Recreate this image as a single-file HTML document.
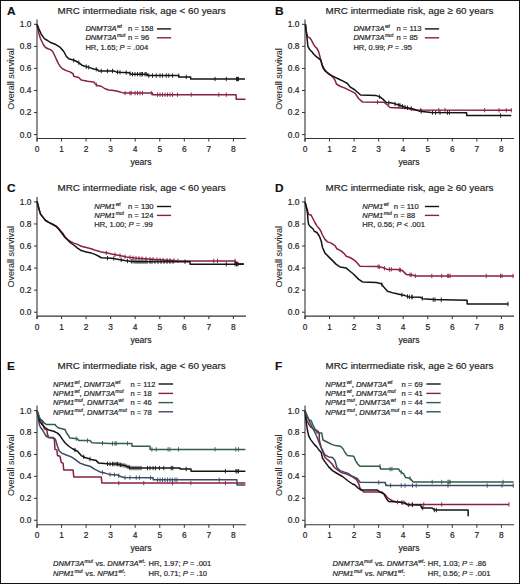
<!DOCTYPE html>
<html><head><meta charset="utf-8"><style>
html,body{margin:0;padding:0;background:#fff;}
body{width:520px;height:584px;overflow:hidden;}
svg{display:block;font-family:"Liberation Sans", sans-serif;}
text{stroke:#222;stroke-width:0.18px;white-space:pre;}
</style></head><body>
<svg width="520" height="584" viewBox="0 0 520 584" fill="#222">
<rect x="0" y="0" width="520" height="584" fill="#fff"/>
<text x="6.90" y="14.70" font-size="11.0" font-weight="bold" fill="#111" transform="translate(6.90,14.70) scale(1.08,1) translate(-6.90,-14.70)">A</text>
<text x="57.50" y="13.75" font-size="9.85">MRC intermediate risk, age &lt; 60 years</text>
<path d="M37.00 19.40V141.50" stroke="#333" stroke-width="1.1" fill="none"/>
<path d="M37.00 138.50H246.00" stroke="#333" stroke-width="1.1" fill="none"/>
<path d="M34.00 134.60H37.00M34.00 112.54H37.00M34.00 90.48H37.00M34.00 68.42H37.00M34.00 46.36H37.00M34.00 24.30H37.00M37.00 138.50V141.50M61.55 138.50V141.50M86.10 138.50V141.50M110.65 138.50V141.50M135.20 138.50V141.50M159.75 138.50V141.50M184.30 138.50V141.50M208.85 138.50V141.50M233.40 138.50V141.50" stroke="#333" stroke-width="1" fill="none"/>
<text x="31.40" y="137.50" font-size="8.4" text-anchor="end">0.0</text>
<text x="31.40" y="115.44" font-size="8.4" text-anchor="end">0.2</text>
<text x="31.40" y="93.38" font-size="8.4" text-anchor="end">0.4</text>
<text x="31.40" y="71.32" font-size="8.4" text-anchor="end">0.6</text>
<text x="31.40" y="49.26" font-size="8.4" text-anchor="end">0.8</text>
<text x="31.40" y="27.20" font-size="8.4" text-anchor="end">1.0</text>
<text x="37.00" y="152.00" font-size="8.4" text-anchor="middle">0</text>
<text x="61.55" y="152.00" font-size="8.4" text-anchor="middle">1</text>
<text x="86.10" y="152.00" font-size="8.4" text-anchor="middle">2</text>
<text x="110.65" y="152.00" font-size="8.4" text-anchor="middle">3</text>
<text x="135.20" y="152.00" font-size="8.4" text-anchor="middle">4</text>
<text x="159.75" y="152.00" font-size="8.4" text-anchor="middle">5</text>
<text x="184.30" y="152.00" font-size="8.4" text-anchor="middle">6</text>
<text x="208.85" y="152.00" font-size="8.4" text-anchor="middle">7</text>
<text x="233.40" y="152.00" font-size="8.4" text-anchor="middle">8</text>
<text x="141.00" y="165.00" font-size="8.6" text-anchor="middle">years</text>
<text x="0" y="0" font-size="9.0" text-anchor="middle" style="stroke-width:0.05px" transform="translate(13.80,79.05) rotate(-90)">Overall survival</text>
<path d="M37.00 24.30 L38.75 33.00 L40.40 38.50 L43.30 44.50 L45.50 47.50 L48.50 49.00 L50.00 49.40 L52.50 51.25 L55.00 56.25 L57.50 61.90 L60.00 66.25 L62.50 68.75 L66.25 70.60 L70.00 71.90 L73.10 73.75 L73.75 76.25 L78.75 77.50 L81.25 80.00 L87.50 81.25 L93.75 81.90 L95.00 83.75 L97.50 85.60 L101.25 86.25 L105.00 88.75 L108.75 90.00 L113.75 90.60 L117.50 91.25 L120.00 91.90 L123.75 93.10 L152.50 93.10 L152.60 94.70 L236.10 94.70 L236.20 99.30 L245.50 99.30" stroke="#8a1f43" stroke-width="1.5" fill="none" stroke-linejoin="round"/>
<path d="M37.00 24.30 L38.75 28.60 L41.25 34.25 L44.40 38.60 L47.50 40.50 L50.00 42.20 L55.00 44.20 L60.00 47.20 L62.50 50.00 L63.75 51.50 L66.25 56.25 L68.75 58.75 L73.10 60.00 L76.25 61.25 L79.40 63.10 L82.50 65.60 L87.50 66.90 L91.25 68.10 L93.75 69.00 L97.50 69.50 L98.75 71.00 L113.75 71.00 L116.25 71.90 L120.00 72.30 L129.00 72.70 L130.80 74.20 L147.50 74.20 L147.60 75.60 L178.75 75.60 L178.85 76.90 L190.60 76.90 L190.70 79.00 L245.00 79.00" stroke="#141414" stroke-width="1.5" fill="none" stroke-linejoin="round"/>
<path d="M96.25 82.47V86.88M125.00 90.90V95.30M130.00 90.90V95.30M131.25 90.90V95.30M135.00 90.90V95.30M137.50 90.90V95.30M140.00 90.90V95.30M142.50 90.90V95.30M151.25 90.90V95.30M157.50 92.50V96.90M160.00 92.50V96.90M162.50 92.50V96.90M165.00 92.50V96.90M167.50 92.50V96.90M170.00 92.50V96.90M172.50 92.50V96.90M177.50 92.50V96.90M191.25 92.50V96.90M218.75 92.50V96.90M226.25 92.50V96.90" stroke="#8a1f43" stroke-width="0.9" fill="none"/>
<path d="M73.75 58.06V62.46M78.75 60.52V64.92M86.25 64.38V68.78M88.75 65.10V69.50M96.25 67.13V71.53M101.25 68.80V73.20M107.50 68.80V73.20M112.50 68.80V73.20M117.50 69.83V74.23M120.00 70.10V74.50M126.25 70.38V74.78M130.00 71.33V75.73M132.50 72.00V76.40M135.00 72.00V76.40M137.50 72.00V76.40M140.00 72.00V76.40M141.25 72.00V76.40M142.50 72.00V76.40M145.00 72.00V76.40M146.25 72.00V76.40M148.75 73.40V77.80M152.50 73.40V77.80M156.25 73.40V77.80M160.00 73.40V77.80M162.50 73.40V77.80M166.25 73.40V77.80M168.75 73.40V77.80M172.50 73.40V77.80M178.75 73.40V77.80M186.25 74.70V79.10M215.00 76.80V81.20M226.25 76.80V81.20M236.50 76.80V81.20M237.50 76.80V81.20M238.50 76.80V81.20" stroke="#141414" stroke-width="0.9" fill="none"/>
<text x="85.40" y="31.05" font-size="7.6" font-style="italic">DNMT3A</text>
<text x="116.95" y="28.05" font-size="5.0" font-style="italic">wt</text>
<text x="85.40" y="40.20" font-size="7.6" font-style="italic">DNMT3A</text>
<text x="116.95" y="37.20" font-size="5.0" font-style="italic">mut</text>
<text x="127.90" y="31.05" font-size="7.6">n = 158</text>
<text x="127.90" y="40.20" font-size="7.6">n = 96</text>
<path d="M156.90 28.90H171.10" stroke="#141414" stroke-width="1.4"/>
<path d="M156.90 37.80H171.10" stroke="#8a1f43" stroke-width="1.4"/>
<text x="85.40" y="49.50" font-size="7.6" xml:space="preserve">HR, 1.65; </text>
<text x="119.61" y="49.50" font-size="7.6" font-style="italic">P</text>
<text x="124.68" y="49.50" font-size="7.6" xml:space="preserve"> = .004</text>
<text x="274.90" y="14.70" font-size="11.0" font-weight="bold" fill="#111" transform="translate(274.90,14.70) scale(1.08,1) translate(-274.90,-14.70)">B</text>
<text x="325.50" y="13.75" font-size="9.85">MRC intermediate risk, age ≥ 60 years</text>
<path d="M305.00 19.40V141.50" stroke="#333" stroke-width="1.1" fill="none"/>
<path d="M305.00 138.50H514.00" stroke="#333" stroke-width="1.1" fill="none"/>
<path d="M302.00 134.60H305.00M302.00 112.54H305.00M302.00 90.48H305.00M302.00 68.42H305.00M302.00 46.36H305.00M302.00 24.30H305.00M305.00 138.50V141.50M329.55 138.50V141.50M354.10 138.50V141.50M378.65 138.50V141.50M403.20 138.50V141.50M427.75 138.50V141.50M452.30 138.50V141.50M476.85 138.50V141.50M501.40 138.50V141.50" stroke="#333" stroke-width="1" fill="none"/>
<text x="299.40" y="137.50" font-size="8.4" text-anchor="end">0.0</text>
<text x="299.40" y="115.44" font-size="8.4" text-anchor="end">0.2</text>
<text x="299.40" y="93.38" font-size="8.4" text-anchor="end">0.4</text>
<text x="299.40" y="71.32" font-size="8.4" text-anchor="end">0.6</text>
<text x="299.40" y="49.26" font-size="8.4" text-anchor="end">0.8</text>
<text x="299.40" y="27.20" font-size="8.4" text-anchor="end">1.0</text>
<text x="305.00" y="152.00" font-size="8.4" text-anchor="middle">0</text>
<text x="329.55" y="152.00" font-size="8.4" text-anchor="middle">1</text>
<text x="354.10" y="152.00" font-size="8.4" text-anchor="middle">2</text>
<text x="378.65" y="152.00" font-size="8.4" text-anchor="middle">3</text>
<text x="403.20" y="152.00" font-size="8.4" text-anchor="middle">4</text>
<text x="427.75" y="152.00" font-size="8.4" text-anchor="middle">5</text>
<text x="452.30" y="152.00" font-size="8.4" text-anchor="middle">6</text>
<text x="476.85" y="152.00" font-size="8.4" text-anchor="middle">7</text>
<text x="501.40" y="152.00" font-size="8.4" text-anchor="middle">8</text>
<text x="409.00" y="165.00" font-size="8.6" text-anchor="middle">years</text>
<text x="0" y="0" font-size="9.0" text-anchor="middle" style="stroke-width:0.05px" transform="translate(281.80,79.05) rotate(-90)">Overall survival</text>
<path d="M305.45 24.45 L306.30 32.20 L307.45 36.70 L309.70 37.80 L311.40 40.00 L313.00 43.40 L314.70 46.20 L316.90 48.40 L318.60 51.70 L319.70 55.60 L320.80 60.10 L322.50 65.70 L324.20 69.00 L327.00 72.30 L330.80 75.10 L333.60 77.90 L335.30 80.70 L336.40 84.00 L340.00 86.25 L345.00 88.10 L350.00 90.60 L355.00 93.10 L358.75 98.75 L362.50 101.90 L383.75 102.25 L387.50 105.00 L390.00 107.50 L400.00 108.10 L407.50 108.50 L413.75 110.00 L511.90 110.25" stroke="#8a1f43" stroke-width="1.5" fill="none" stroke-linejoin="round"/>
<path d="M305.45 24.45 L306.30 31.10 L306.90 36.70 L307.45 42.30 L308.00 46.70 L309.70 49.50 L311.90 51.70 L313.60 54.00 L315.80 56.20 L318.60 58.40 L320.80 60.10 L321.90 64.50 L323.00 67.90 L325.30 71.20 L329.70 74.60 L334.20 76.80 L338.60 79.00 L343.10 81.20 L347.50 83.50 L350.00 86.90 L355.00 90.00 L360.60 95.00 L376.25 95.60 L380.00 96.90 L383.10 99.40 L386.25 102.50 L392.50 103.10 L398.75 105.00 L402.50 106.25 L406.25 107.50 L412.50 108.75 L420.00 111.25 L431.25 112.50 L466.60 112.75 L466.70 115.60 L511.25 115.60" stroke="#141414" stroke-width="1.5" fill="none" stroke-linejoin="round"/>
<path d="M377.50 99.95V104.35M420.60 107.82V112.22M438.75 107.86V112.26M445.00 107.88V112.28M484.60 107.98V112.38M499.00 108.02V112.42M506.25 108.04V112.44M511.25 108.05V112.45" stroke="#8a1f43" stroke-width="0.9" fill="none"/>
<path d="M379.40 94.49V98.89M388.75 100.54V104.94M395.00 101.66V106.06M398.75 102.80V107.20M400.00 103.22V107.62M402.50 104.05V108.45M405.00 104.88V109.28M407.50 105.55V109.95M411.25 106.30V110.70M421.25 109.19V113.59M432.50 110.31V114.71M435.60 110.33V114.73M440.00 110.36V114.76M447.50 110.41V114.81M449.40 110.43V114.83M500.60 113.40V117.80" stroke="#141414" stroke-width="0.9" fill="none"/>
<text x="353.40" y="31.05" font-size="7.6" font-style="italic">DNMT3A</text>
<text x="384.95" y="28.05" font-size="5.0" font-style="italic">wt</text>
<text x="353.40" y="40.20" font-size="7.6" font-style="italic">DNMT3A</text>
<text x="384.95" y="37.20" font-size="5.0" font-style="italic">mut</text>
<text x="396.50" y="31.05" font-size="7.6">n = 113</text>
<text x="396.50" y="40.20" font-size="7.6">n = 85</text>
<path d="M424.90 28.90H439.10" stroke="#141414" stroke-width="1.4"/>
<path d="M424.90 37.80H439.10" stroke="#8a1f43" stroke-width="1.4"/>
<text x="353.40" y="49.50" font-size="7.6" xml:space="preserve">HR, 0.99; </text>
<text x="387.61" y="49.50" font-size="7.6" font-style="italic">P</text>
<text x="392.68" y="49.50" font-size="7.6" xml:space="preserve"> = .95</text>
<text x="6.90" y="192.30" font-size="11.0" font-weight="bold" fill="#111" transform="translate(6.90,192.30) scale(1.08,1) translate(-6.90,-192.30)">C</text>
<text x="57.50" y="191.35" font-size="9.85">MRC intermediate risk, age &lt; 60 years</text>
<path d="M37.00 197.00V319.10" stroke="#333" stroke-width="1.1" fill="none"/>
<path d="M37.00 316.10H246.00" stroke="#333" stroke-width="1.1" fill="none"/>
<path d="M34.00 312.20H37.00M34.00 290.14H37.00M34.00 268.08H37.00M34.00 246.02H37.00M34.00 223.96H37.00M34.00 201.90H37.00M37.00 316.10V319.10M61.55 316.10V319.10M86.10 316.10V319.10M110.65 316.10V319.10M135.20 316.10V319.10M159.75 316.10V319.10M184.30 316.10V319.10M208.85 316.10V319.10M233.40 316.10V319.10" stroke="#333" stroke-width="1" fill="none"/>
<text x="31.40" y="315.10" font-size="8.4" text-anchor="end">0.0</text>
<text x="31.40" y="293.04" font-size="8.4" text-anchor="end">0.2</text>
<text x="31.40" y="270.98" font-size="8.4" text-anchor="end">0.4</text>
<text x="31.40" y="248.92" font-size="8.4" text-anchor="end">0.6</text>
<text x="31.40" y="226.86" font-size="8.4" text-anchor="end">0.8</text>
<text x="31.40" y="204.80" font-size="8.4" text-anchor="end">1.0</text>
<text x="37.00" y="329.60" font-size="8.4" text-anchor="middle">0</text>
<text x="61.55" y="329.60" font-size="8.4" text-anchor="middle">1</text>
<text x="86.10" y="329.60" font-size="8.4" text-anchor="middle">2</text>
<text x="110.65" y="329.60" font-size="8.4" text-anchor="middle">3</text>
<text x="135.20" y="329.60" font-size="8.4" text-anchor="middle">4</text>
<text x="159.75" y="329.60" font-size="8.4" text-anchor="middle">5</text>
<text x="184.30" y="329.60" font-size="8.4" text-anchor="middle">6</text>
<text x="208.85" y="329.60" font-size="8.4" text-anchor="middle">7</text>
<text x="233.40" y="329.60" font-size="8.4" text-anchor="middle">8</text>
<text x="141.00" y="342.60" font-size="8.6" text-anchor="middle">years</text>
<text x="0" y="0" font-size="9.0" text-anchor="middle" style="stroke-width:0.05px" transform="translate(13.80,256.65) rotate(-90)">Overall survival</text>
<path d="M37.00 201.10 L38.10 205.50 L39.40 210.50 L40.60 214.25 L43.10 217.40 L45.60 220.50 L48.75 222.40 L52.50 224.25 L56.25 226.10 L59.40 229.25 L62.50 233.00 L65.00 236.75 L68.75 240.50 L70.00 241.25 L73.75 243.10 L77.50 244.40 L81.25 246.25 L86.25 247.50 L91.25 248.75 L96.25 250.60 L101.25 251.90 L107.50 253.10 L113.75 254.40 L120.00 255.60 L126.25 256.90 L135.00 258.10 L155.00 259.50 L180.00 260.90 L235.50 260.90 L235.60 263.70 L243.75 263.70" stroke="#8a1f43" stroke-width="1.5" fill="none" stroke-linejoin="round"/>
<path d="M37.00 201.10 L38.10 205.50 L39.40 210.50 L40.60 214.25 L43.10 217.40 L45.60 220.50 L48.75 222.40 L52.50 224.25 L56.25 226.50 L59.40 230.00 L62.50 234.00 L65.00 237.50 L68.75 241.00 L70.00 242.50 L73.75 245.00 L77.50 248.10 L81.25 250.60 L86.25 251.90 L91.25 253.10 L95.00 254.40 L98.75 256.25 L101.25 257.75 L107.50 258.10 L113.75 258.50 L118.75 259.40 L125.00 260.60 L130.00 261.25 L137.50 261.70 L190.00 261.70 L190.10 264.20 L243.75 264.20" stroke="#141414" stroke-width="1.5" fill="none" stroke-linejoin="round"/>
<path d="M106.25 250.66V255.06M115.00 252.44V256.84M120.00 253.40V257.80M125.00 254.44V258.84M130.00 255.21V259.61M133.00 255.63V260.03M136.00 255.97V260.37M139.00 256.18V260.58M142.00 256.39V260.79M146.00 256.67V261.07M150.00 256.95V261.35M153.00 257.16V261.56M157.00 257.41V261.81M160.00 257.58V261.98M163.00 257.75V262.15M167.00 257.97V262.37M170.00 258.14V262.54M174.00 258.36V262.76M178.00 258.59V262.99M213.75 258.70V263.10M217.50 258.70V263.10M235.00 258.70V263.10M236.50 261.50V265.90M237.50 261.50V265.90" stroke="#8a1f43" stroke-width="0.9" fill="none"/>
<path d="M107.50 255.90V260.30M113.75 256.30V260.70M121.25 257.68V262.08M127.50 258.73V263.12M131.25 259.12V263.52M133.00 259.23V263.63M135.00 259.35V263.75M137.00 259.47V263.87M139.00 259.50V263.90M141.00 259.50V263.90M143.00 259.50V263.90M145.00 259.50V263.90M147.00 259.50V263.90M150.00 259.50V263.90M152.00 259.50V263.90M155.00 259.50V263.90M158.00 259.50V263.90M161.00 259.50V263.90M164.00 259.50V263.90M167.00 259.50V263.90M170.00 259.50V263.90M173.00 259.50V263.90M185.00 259.50V263.90M226.25 262.00V266.40M235.00 262.00V266.40M236.50 262.00V266.40M238.00 262.00V266.40" stroke="#141414" stroke-width="0.9" fill="none"/>
<text x="94.25" y="208.65" font-size="7.6" font-style="italic">NPM1</text>
<text x="115.67" y="205.65" font-size="5.0" font-style="italic">wt</text>
<text x="94.25" y="217.80" font-size="7.6" font-style="italic">NPM1</text>
<text x="115.67" y="214.80" font-size="5.0" font-style="italic">mut</text>
<text x="128.00" y="208.65" font-size="7.6">n = 130</text>
<text x="128.00" y="217.80" font-size="7.6">n = 124</text>
<path d="M156.90 206.50H171.10" stroke="#141414" stroke-width="1.4"/>
<path d="M156.90 215.40H171.10" stroke="#8a1f43" stroke-width="1.4"/>
<text x="94.25" y="227.10" font-size="7.6" xml:space="preserve">HR, 1.00; </text>
<text x="128.46" y="227.10" font-size="7.6" font-style="italic">P</text>
<text x="133.53" y="227.10" font-size="7.6" xml:space="preserve"> = .99</text>
<text x="274.90" y="192.30" font-size="11.0" font-weight="bold" fill="#111" transform="translate(274.90,192.30) scale(1.08,1) translate(-274.90,-192.30)">D</text>
<text x="325.50" y="191.35" font-size="9.85">MRC intermediate risk, age ≥ 60 years</text>
<path d="M305.00 197.00V319.10" stroke="#333" stroke-width="1.1" fill="none"/>
<path d="M305.00 316.10H514.00" stroke="#333" stroke-width="1.1" fill="none"/>
<path d="M302.00 312.20H305.00M302.00 290.14H305.00M302.00 268.08H305.00M302.00 246.02H305.00M302.00 223.96H305.00M302.00 201.90H305.00M305.00 316.10V319.10M329.55 316.10V319.10M354.10 316.10V319.10M378.65 316.10V319.10M403.20 316.10V319.10M427.75 316.10V319.10M452.30 316.10V319.10M476.85 316.10V319.10M501.40 316.10V319.10" stroke="#333" stroke-width="1" fill="none"/>
<text x="299.40" y="315.10" font-size="8.4" text-anchor="end">0.0</text>
<text x="299.40" y="293.04" font-size="8.4" text-anchor="end">0.2</text>
<text x="299.40" y="270.98" font-size="8.4" text-anchor="end">0.4</text>
<text x="299.40" y="248.92" font-size="8.4" text-anchor="end">0.6</text>
<text x="299.40" y="226.86" font-size="8.4" text-anchor="end">0.8</text>
<text x="299.40" y="204.80" font-size="8.4" text-anchor="end">1.0</text>
<text x="305.00" y="329.60" font-size="8.4" text-anchor="middle">0</text>
<text x="329.55" y="329.60" font-size="8.4" text-anchor="middle">1</text>
<text x="354.10" y="329.60" font-size="8.4" text-anchor="middle">2</text>
<text x="378.65" y="329.60" font-size="8.4" text-anchor="middle">3</text>
<text x="403.20" y="329.60" font-size="8.4" text-anchor="middle">4</text>
<text x="427.75" y="329.60" font-size="8.4" text-anchor="middle">5</text>
<text x="452.30" y="329.60" font-size="8.4" text-anchor="middle">6</text>
<text x="476.85" y="329.60" font-size="8.4" text-anchor="middle">7</text>
<text x="501.40" y="329.60" font-size="8.4" text-anchor="middle">8</text>
<text x="409.00" y="342.60" font-size="8.6" text-anchor="middle">years</text>
<text x="0" y="0" font-size="9.0" text-anchor="middle" style="stroke-width:0.05px" transform="translate(281.80,256.65) rotate(-90)">Overall survival</text>
<path d="M305.00 201.90 L306.10 205.60 L307.40 210.00 L308.60 214.40 L311.10 215.00 L313.00 218.75 L314.90 222.50 L316.75 225.60 L319.25 228.75 L320.60 230.60 L322.50 235.00 L325.00 239.40 L327.50 241.90 L331.25 243.10 L335.00 245.60 L336.90 248.75 L340.60 250.60 L343.75 253.10 L346.25 256.25 L350.00 257.50 L355.00 260.60 L360.00 266.25 L377.50 266.50 L382.50 267.50 L387.50 269.40 L397.50 269.40 L402.50 270.60 L406.25 274.40 L412.50 275.00 L415.00 275.90 L513.60 275.90" stroke="#8a1f43" stroke-width="1.5" fill="none" stroke-linejoin="round"/>
<path d="M305.00 201.90 L306.10 206.25 L307.40 212.50 L308.00 220.00 L308.60 224.40 L310.50 226.90 L313.00 228.75 L314.25 231.25 L316.90 232.50 L319.40 236.25 L321.25 241.25 L322.50 247.50 L325.00 253.10 L328.75 256.90 L332.50 260.60 L336.25 264.40 L340.00 266.90 L346.25 268.10 L350.00 271.25 L353.10 273.75 L355.00 275.60 L358.75 279.40 L362.50 281.90 L376.25 282.50 L381.25 283.75 L383.75 286.90 L387.50 291.25 L393.75 293.10 L400.00 294.40 L405.00 295.60 L408.75 296.90 L420.60 297.30 L422.70 298.70 L433.30 299.60 L467.10 300.20 L467.20 304.00 L508.40 304.00" stroke="#141414" stroke-width="1.5" fill="none" stroke-linejoin="round"/>
<path d="M378.10 264.42V268.82M379.40 264.68V269.08M384.40 266.02V270.42M389.40 267.20V271.60M391.25 267.20V271.60M399.40 267.66V272.06M400.60 267.94V272.34M410.00 272.56V276.96M411.25 272.68V277.08M415.30 273.70V278.10M431.80 273.70V278.10M441.70 273.70V278.10M447.70 273.70V278.10M448.70 273.70V278.10M450.20 273.70V278.10M486.20 273.70V278.10M500.50 273.70V278.10M502.00 273.70V278.10M513.00 273.70V278.10" stroke="#8a1f43" stroke-width="0.9" fill="none"/>
<path d="M381.90 282.37V286.77M401.90 292.66V297.06M407.50 294.27V298.67M409.40 294.72V299.12M411.90 294.81V299.21M412.10 294.81V299.21M422.30 296.23V300.63M433.30 297.40V301.80M435.00 297.43V301.83M441.30 297.54V301.94M507.90 301.80V306.20" stroke="#141414" stroke-width="0.9" fill="none"/>
<text x="362.25" y="208.65" font-size="7.6" font-style="italic">NPM1</text>
<text x="383.67" y="205.65" font-size="5.0" font-style="italic">wt</text>
<text x="362.25" y="217.80" font-size="7.6" font-style="italic">NPM1</text>
<text x="383.67" y="214.80" font-size="5.0" font-style="italic">mut</text>
<text x="393.80" y="208.65" font-size="7.6">n = 110</text>
<text x="393.80" y="217.80" font-size="7.6">n = 88</text>
<path d="M424.90 206.50H439.10" stroke="#141414" stroke-width="1.4"/>
<path d="M424.90 215.40H439.10" stroke="#8a1f43" stroke-width="1.4"/>
<text x="362.25" y="227.10" font-size="7.6" xml:space="preserve">HR, 0.56; </text>
<text x="396.46" y="227.10" font-size="7.6" font-style="italic">P</text>
<text x="401.53" y="227.10" font-size="7.6" xml:space="preserve"> &lt; .001</text>
<text x="6.90" y="370.20" font-size="11.0" font-weight="bold" fill="#111" transform="translate(6.90,370.20) scale(1.08,1) translate(-6.90,-370.20)">E</text>
<text x="57.50" y="369.00" font-size="9.85">MRC intermediate risk, age &lt; 60 years</text>
<path d="M37.00 405.60V527.80" stroke="#333" stroke-width="1.1" fill="none"/>
<path d="M37.00 524.80H246.00" stroke="#333" stroke-width="1.1" fill="none"/>
<path d="M34.00 520.25H37.00M34.00 498.32H37.00M34.00 476.39H37.00M34.00 454.46H37.00M34.00 432.53H37.00M34.00 410.60H37.00M37.00 524.80V527.80M61.55 524.80V527.80M86.10 524.80V527.80M110.65 524.80V527.80M135.20 524.80V527.80M159.75 524.80V527.80M184.30 524.80V527.80M208.85 524.80V527.80M233.40 524.80V527.80" stroke="#333" stroke-width="1" fill="none"/>
<text x="31.40" y="523.15" font-size="8.4" text-anchor="end">0.0</text>
<text x="31.40" y="501.22" font-size="8.4" text-anchor="end">0.2</text>
<text x="31.40" y="479.29" font-size="8.4" text-anchor="end">0.4</text>
<text x="31.40" y="457.36" font-size="8.4" text-anchor="end">0.6</text>
<text x="31.40" y="435.43" font-size="8.4" text-anchor="end">0.8</text>
<text x="31.40" y="413.50" font-size="8.4" text-anchor="end">1.0</text>
<text x="37.00" y="537.50" font-size="8.4" text-anchor="middle">0</text>
<text x="61.55" y="537.50" font-size="8.4" text-anchor="middle">1</text>
<text x="86.10" y="537.50" font-size="8.4" text-anchor="middle">2</text>
<text x="110.65" y="537.50" font-size="8.4" text-anchor="middle">3</text>
<text x="135.20" y="537.50" font-size="8.4" text-anchor="middle">4</text>
<text x="159.75" y="537.50" font-size="8.4" text-anchor="middle">5</text>
<text x="184.30" y="537.50" font-size="8.4" text-anchor="middle">6</text>
<text x="208.85" y="537.50" font-size="8.4" text-anchor="middle">7</text>
<text x="233.40" y="537.50" font-size="8.4" text-anchor="middle">8</text>
<text x="141.00" y="551.25" font-size="8.6" text-anchor="middle">years</text>
<text x="0" y="0" font-size="9.0" text-anchor="middle" style="stroke-width:0.05px" transform="translate(13.80,465.20) rotate(-90)">Overall survival</text>
<path d="M37.00 410.60 L38.75 415.00 L40.00 420.00 L41.90 421.25 L43.10 425.00 L44.40 428.75 L46.90 430.00 L47.50 434.40 L48.75 437.50 L53.10 437.50 L53.75 438.10 L54.40 440.00 L55.00 449.40 L56.90 450.00 L57.50 455.60 L60.00 456.25 L61.25 462.50 L63.10 463.10 L63.75 470.00 L73.10 470.00 L73.75 476.90 L101.25 476.90 L101.90 483.10 L245.40 483.10" stroke="#8a1f43" stroke-width="1.5" fill="none" stroke-linejoin="round"/>
<path d="M37.00 410.60 L38.10 417.50 L39.40 425.00 L40.60 427.50 L42.50 430.00 L44.40 433.10 L46.25 436.25 L48.75 437.50 L52.50 438.10 L55.00 438.75 L55.60 440.00 L57.50 446.25 L59.40 451.25 L61.90 453.10 L66.25 455.00 L71.25 456.90 L75.00 459.40 L80.00 463.10 L85.00 465.00 L90.00 466.25 L95.00 469.40 L100.00 471.90 L105.00 473.10 L110.00 474.60 L117.50 475.00 L120.00 476.25 L123.75 477.50 L153.10 477.75 L153.20 479.80 L236.90 479.80 L237.00 485.00 L245.40 485.00" stroke="#3b4965" stroke-width="1.5" fill="none" stroke-linejoin="round"/>
<path d="M37.00 410.60 L38.75 417.50 L40.00 421.90 L42.50 425.00 L45.00 427.50 L48.75 430.00 L53.75 431.25 L57.50 433.10 L60.00 435.60 L62.50 439.40 L65.00 442.80 L68.75 446.25 L72.50 448.75 L77.50 451.25 L81.25 455.60 L85.00 457.50 L91.25 459.40 L96.25 460.60 L98.75 463.10 L110.00 464.00 L117.50 464.00 L120.00 464.75 L125.00 465.60 L128.75 467.25 L131.25 468.10 L180.00 468.10 L180.10 469.00 L191.00 469.00 L191.10 471.20 L245.40 471.20" stroke="#141414" stroke-width="1.5" fill="none" stroke-linejoin="round"/>
<path d="M37.00 410.60 L38.75 416.25 L40.60 419.40 L42.50 420.60 L44.40 423.10 L46.25 424.40 L55.00 424.40 L56.25 426.25 L58.75 428.10 L65.00 429.40 L66.25 432.50 L68.10 435.00 L70.00 438.10 L77.50 438.75 L78.75 440.60 L90.00 440.60 L91.90 442.75 L110.00 443.50 L131.90 443.50 L132.00 446.25 L150.00 446.25 L150.10 449.40 L245.40 449.40" stroke="#325c4c" stroke-width="1.5" fill="none" stroke-linejoin="round"/>
<path d="M118.75 480.90V485.30M143.75 480.90V485.30M172.50 480.90V485.30M190.80 480.90V485.30M225.40 480.90V485.30" stroke="#8a1f43" stroke-width="0.9" fill="none"/>
<path d="M102.50 470.30V474.70M110.00 472.40V476.80M114.40 472.63V477.03M118.75 473.43V477.82M125.00 475.31V479.71M130.00 475.35V479.75M136.25 475.41V479.81M139.40 475.43V479.83M150.60 475.53V479.93M157.50 477.60V482.00M160.00 477.60V482.00M162.50 477.60V482.00M165.00 477.60V482.00M167.50 477.60V482.00M170.00 477.60V482.00M172.30 477.60V482.00M175.00 477.60V482.00M176.90 477.60V482.00M219.20 477.60V482.00" stroke="#3b4965" stroke-width="0.9" fill="none"/>
<path d="M75.00 447.80V452.20M83.75 454.67V459.07M90.00 456.82V461.22M107.50 461.60V466.00M110.00 461.80V466.20M112.50 461.80V466.20M114.00 461.80V466.20M116.00 461.80V466.20M117.50 461.80V466.20M119.00 462.25V466.65M120.50 462.63V467.03M122.00 462.89V467.29M124.00 463.23V467.63M126.00 463.84V468.24M128.00 464.72V469.12M129.50 465.31V469.70M131.00 465.82V470.22M133.00 465.90V470.30M135.00 465.90V470.30M137.00 465.90V470.30M139.00 465.90V470.30M141.00 465.90V470.30M147.50 465.90V470.30M150.00 465.90V470.30M153.10 465.90V470.30M155.60 465.90V470.30M159.40 465.90V470.30M163.75 465.90V470.30M171.25 465.90V470.30M172.80 465.90V470.30M186.20 466.80V471.20M225.40 469.00V473.40M236.00 469.00V473.40M237.00 469.00V473.40M238.50 469.00V473.40" stroke="#141414" stroke-width="0.9" fill="none"/>
<path d="M76.25 436.44V440.84M87.50 438.40V442.80M102.50 440.99V445.39M112.50 441.30V445.70M115.00 441.30V445.70M116.25 441.30V445.70M127.50 441.30V445.70M151.90 447.20V451.60M156.25 447.20V451.60M168.10 447.20V451.60M170.00 447.20V451.60M178.50 447.20V451.60M215.00 447.20V451.60M235.80 447.20V451.60M238.50 447.20V451.60" stroke="#325c4c" stroke-width="0.9" fill="none"/>
<text x="53.10" y="386.60" font-size="7.6" font-style="italic">NPM1</text>
<text x="74.52" y="383.60" font-size="5.0" font-style="italic">wt</text>
<text x="79.52" y="386.60" font-size="7.6">,</text>
<text x="83.74" y="386.60" font-size="7.6" font-style="italic">DNMT3A</text>
<text x="115.28" y="383.60" font-size="5.0" font-style="italic">wt</text>
<text x="130.40" y="386.60" font-size="7.6">n = 112</text>
<path d="M158.50 384.00H173.10" stroke="#141414" stroke-width="1.4"/>
<text x="53.10" y="395.90" font-size="7.6" font-style="italic">NPM1</text>
<text x="74.52" y="392.90" font-size="5.0" font-style="italic">wt</text>
<text x="79.52" y="395.90" font-size="7.6">,</text>
<text x="83.74" y="395.90" font-size="7.6" font-style="italic">DNMT3A</text>
<text x="115.28" y="392.90" font-size="5.0" font-style="italic">mut</text>
<text x="130.40" y="395.90" font-size="7.6">n = 18</text>
<path d="M158.50 393.40H173.10" stroke="#8a1f43" stroke-width="1.4"/>
<text x="53.10" y="405.30" font-size="7.6" font-style="italic">NPM1</text>
<text x="74.52" y="402.30" font-size="5.0" font-style="italic">mut</text>
<text x="82.85" y="405.30" font-size="7.6">,</text>
<text x="87.07" y="405.30" font-size="7.6" font-style="italic">DNMT3A</text>
<text x="118.62" y="402.30" font-size="5.0" font-style="italic">wt</text>
<text x="130.40" y="405.30" font-size="7.6">n = 46</text>
<path d="M158.50 402.60H173.10" stroke="#325c4c" stroke-width="1.4"/>
<text x="53.10" y="414.80" font-size="7.6" font-style="italic">NPM1</text>
<text x="74.52" y="411.80" font-size="5.0" font-style="italic">mut</text>
<text x="82.85" y="414.80" font-size="7.6">,</text>
<text x="87.07" y="414.80" font-size="7.6" font-style="italic">DNMT3A</text>
<text x="118.62" y="411.80" font-size="5.0" font-style="italic">mut</text>
<text x="130.40" y="414.80" font-size="7.6">n = 78</text>
<path d="M158.50 411.80H173.10" stroke="#3b4965" stroke-width="1.4"/>
<text x="53.00" y="566.10" font-size="7.6" font-style="italic">DNMT3A</text>
<text x="84.55" y="563.10" font-size="5.0" font-style="italic">mut</text>
<text x="93.38" y="566.10" font-size="7.6" xml:space="preserve"> vs. </text>
<text x="107.32" y="566.10" font-size="7.6" font-style="italic">DNMT3A</text>
<text x="138.86" y="563.10" font-size="5.0" font-style="italic">wt</text>
<text x="143.86" y="566.10" font-size="7.6">:</text>
<text x="148.60" y="566.10" font-size="7.6" xml:space="preserve">HR, 1.97; </text>
<text x="182.81" y="566.10" font-size="7.6" font-style="italic">P</text>
<text x="187.88" y="566.10" font-size="7.6" xml:space="preserve"> = .001</text>
<text x="53.00" y="575.80" font-size="7.6" font-style="italic">NPM1</text>
<text x="74.42" y="572.80" font-size="5.0" font-style="italic">mut</text>
<text x="83.25" y="575.80" font-size="7.6" xml:space="preserve"> vs. </text>
<text x="97.18" y="575.80" font-size="7.6" font-style="italic">NPM1</text>
<text x="118.60" y="572.80" font-size="5.0" font-style="italic">wt</text>
<text x="123.60" y="575.80" font-size="7.6">:</text>
<text x="148.60" y="575.80" font-size="7.6" xml:space="preserve">HR, 0.71; </text>
<text x="182.81" y="575.80" font-size="7.6" font-style="italic">P</text>
<text x="187.88" y="575.80" font-size="7.6" xml:space="preserve"> = .10</text>
<text x="274.90" y="370.20" font-size="11.0" font-weight="bold" fill="#111" transform="translate(274.90,370.20) scale(1.08,1) translate(-274.90,-370.20)">F</text>
<text x="325.50" y="369.00" font-size="9.85">MRC intermediate risk, age ≥ 60 years</text>
<path d="M305.00 405.60V527.80" stroke="#333" stroke-width="1.1" fill="none"/>
<path d="M305.00 524.80H514.00" stroke="#333" stroke-width="1.1" fill="none"/>
<path d="M302.00 520.25H305.00M302.00 498.32H305.00M302.00 476.39H305.00M302.00 454.46H305.00M302.00 432.53H305.00M302.00 410.60H305.00M305.00 524.80V527.80M329.55 524.80V527.80M354.10 524.80V527.80M378.65 524.80V527.80M403.20 524.80V527.80M427.75 524.80V527.80M452.30 524.80V527.80M476.85 524.80V527.80M501.40 524.80V527.80" stroke="#333" stroke-width="1" fill="none"/>
<text x="299.40" y="523.15" font-size="8.4" text-anchor="end">0.0</text>
<text x="299.40" y="501.22" font-size="8.4" text-anchor="end">0.2</text>
<text x="299.40" y="479.29" font-size="8.4" text-anchor="end">0.4</text>
<text x="299.40" y="457.36" font-size="8.4" text-anchor="end">0.6</text>
<text x="299.40" y="435.43" font-size="8.4" text-anchor="end">0.8</text>
<text x="299.40" y="413.50" font-size="8.4" text-anchor="end">1.0</text>
<text x="305.00" y="537.50" font-size="8.4" text-anchor="middle">0</text>
<text x="329.55" y="537.50" font-size="8.4" text-anchor="middle">1</text>
<text x="354.10" y="537.50" font-size="8.4" text-anchor="middle">2</text>
<text x="378.65" y="537.50" font-size="8.4" text-anchor="middle">3</text>
<text x="403.20" y="537.50" font-size="8.4" text-anchor="middle">4</text>
<text x="427.75" y="537.50" font-size="8.4" text-anchor="middle">5</text>
<text x="452.30" y="537.50" font-size="8.4" text-anchor="middle">6</text>
<text x="476.85" y="537.50" font-size="8.4" text-anchor="middle">7</text>
<text x="501.40" y="537.50" font-size="8.4" text-anchor="middle">8</text>
<text x="409.00" y="551.25" font-size="8.6" text-anchor="middle">years</text>
<text x="0" y="0" font-size="9.0" text-anchor="middle" style="stroke-width:0.05px" transform="translate(281.80,465.20) rotate(-90)">Overall survival</text>
<path d="M305.00 410.60 L306.75 420.00 L308.60 423.75 L310.50 426.90 L313.00 428.75 L315.50 430.00 L318.00 431.25 L319.25 433.10 L319.35 440.00 L321.10 447.50 L323.10 452.50 L325.00 457.50 L328.75 460.60 L331.90 463.75 L334.40 467.50 L337.50 470.00 L341.25 472.50 L347.50 474.40 L352.50 476.90 L356.25 479.40 L358.75 483.75 L360.00 488.25 L363.75 492.00 L381.90 492.00 L385.00 494.50 L387.50 497.60 L390.00 499.50 L392.50 500.75 L396.25 502.00 L405.00 502.60 L407.50 504.40 L509.00 504.40" stroke="#8a1f43" stroke-width="1.5" fill="none" stroke-linejoin="round"/>
<path d="M305.00 410.60 L307.40 416.25 L309.90 422.50 L312.40 427.50 L314.25 431.25 L316.75 436.25 L318.60 441.25 L320.50 446.25 L321.90 448.75 L325.00 455.00 L328.75 456.90 L332.50 457.50 L335.00 460.60 L336.90 467.50 L340.00 470.60 L343.75 471.90 L347.50 473.10 L351.25 475.60 L355.00 477.50 L357.50 478.75 L360.00 482.20 L385.00 482.60 L386.25 485.50 L513.60 485.50" stroke="#3b4965" stroke-width="1.5" fill="none" stroke-linejoin="round"/>
<path d="M305.00 410.60 L306.10 421.25 L307.40 430.00 L308.60 435.60 L310.50 439.40 L312.40 441.90 L314.25 444.40 L316.75 446.90 L318.60 449.40 L321.25 452.50 L322.50 458.10 L325.00 461.90 L328.75 466.90 L332.50 470.60 L337.50 473.75 L342.50 476.50 L347.50 480.50 L352.50 484.00 L355.00 485.00 L357.50 487.60 L361.25 490.10 L377.50 490.10 L380.00 492.00 L383.75 493.90 L386.90 499.50 L388.75 501.40 L398.75 502.00 L405.00 503.25 L407.50 504.80 L420.60 504.90 L421.60 508.00 L432.20 508.00 L434.30 510.00 L468.10 510.00 L468.20 516.20" stroke="#141414" stroke-width="1.5" fill="none" stroke-linejoin="round"/>
<path d="M305.00 410.60 L306.75 416.25 L308.60 419.40 L311.10 420.60 L313.00 425.00 L315.50 430.00 L317.40 433.10 L321.75 433.10 L323.00 440.00 L325.50 441.25 L328.00 442.50 L331.75 444.40 L335.50 445.60 L340.50 446.25 L343.00 448.75 L345.00 452.50 L347.50 455.60 L353.75 456.25 L355.60 460.60 L357.50 463.75 L360.00 466.30 L380.00 466.30 L380.60 469.10 L398.75 469.10 L400.00 471.40 L403.75 473.90 L405.60 477.60 L410.00 478.25 L413.10 482.00 L513.60 482.00" stroke="#325c4c" stroke-width="1.5" fill="none" stroke-linejoin="round"/>
<path d="M397.50 499.89V504.29M403.75 500.31V504.71M412.10 502.20V506.60M423.75 502.20V506.60M441.70 502.20V506.60M509.00 502.20V506.60" stroke="#8a1f43" stroke-width="0.9" fill="none"/>
<path d="M378.75 480.30V484.70M385.60 481.79V486.19M390.60 483.30V487.70M401.25 483.30V487.70M405.00 483.30V487.70M412.50 483.30V487.70M416.25 483.30V487.70M448.00 483.30V487.70M487.20 483.30V487.70M502.00 483.30V487.70M513.20 483.30V487.70" stroke="#3b4965" stroke-width="0.9" fill="none"/>
<path d="M401.90 500.43V504.83M408.75 502.61V507.01M412.50 502.64V507.04M422.70 505.80V510.20M434.30 507.80V512.20M436.40 507.80V512.20" stroke="#141414" stroke-width="0.9" fill="none"/>
<path d="M380.00 464.10V468.50M390.00 466.90V471.30M391.90 466.90V471.30M401.25 470.03V474.43M410.00 476.05V480.45M432.20 479.80V484.20M441.70 479.80V484.20M448.00 479.80V484.20M449.10 479.80V484.20M450.20 479.80V484.20M503.10 479.80V484.20" stroke="#325c4c" stroke-width="0.9" fill="none"/>
<text x="325.25" y="386.60" font-size="7.6" font-style="italic">NPM1</text>
<text x="346.67" y="383.60" font-size="5.0" font-style="italic">wt</text>
<text x="351.67" y="386.60" font-size="7.6">,</text>
<text x="355.89" y="386.60" font-size="7.6" font-style="italic">DNMT3A</text>
<text x="387.43" y="383.60" font-size="5.0" font-style="italic">wt</text>
<text x="401.50" y="386.60" font-size="7.6">n = 69</text>
<path d="M426.40 384.00H440.70" stroke="#141414" stroke-width="1.4"/>
<text x="325.25" y="395.90" font-size="7.6" font-style="italic">NPM1</text>
<text x="346.67" y="392.90" font-size="5.0" font-style="italic">wt</text>
<text x="351.67" y="395.90" font-size="7.6">,</text>
<text x="355.89" y="395.90" font-size="7.6" font-style="italic">DNMT3A</text>
<text x="387.43" y="392.90" font-size="5.0" font-style="italic">mut</text>
<text x="401.50" y="395.90" font-size="7.6">n = 41</text>
<path d="M426.40 393.40H440.70" stroke="#8a1f43" stroke-width="1.4"/>
<text x="325.25" y="405.30" font-size="7.6" font-style="italic">NPM1</text>
<text x="346.67" y="402.30" font-size="5.0" font-style="italic">mut</text>
<text x="355.00" y="405.30" font-size="7.6">,</text>
<text x="359.22" y="405.30" font-size="7.6" font-style="italic">DNMT3A</text>
<text x="390.77" y="402.30" font-size="5.0" font-style="italic">wt</text>
<text x="401.50" y="405.30" font-size="7.6">n = 44</text>
<path d="M426.40 402.60H440.70" stroke="#325c4c" stroke-width="1.4"/>
<text x="325.25" y="414.80" font-size="7.6" font-style="italic">NPM1</text>
<text x="346.67" y="411.80" font-size="5.0" font-style="italic">mut</text>
<text x="355.00" y="414.80" font-size="7.6">,</text>
<text x="359.22" y="414.80" font-size="7.6" font-style="italic">DNMT3A</text>
<text x="390.77" y="411.80" font-size="5.0" font-style="italic">mut</text>
<text x="401.50" y="414.80" font-size="7.6">n = 44</text>
<path d="M426.40 411.80H440.70" stroke="#3b4965" stroke-width="1.4"/>
<text x="332.50" y="566.10" font-size="7.6" font-style="italic">DNMT3A</text>
<text x="364.05" y="563.10" font-size="5.0" font-style="italic">mut</text>
<text x="372.88" y="566.10" font-size="7.6" xml:space="preserve"> vs. </text>
<text x="386.82" y="566.10" font-size="7.6" font-style="italic">DNMT3A</text>
<text x="418.36" y="563.10" font-size="5.0" font-style="italic">wt</text>
<text x="423.36" y="566.10" font-size="7.6">:</text>
<text x="427.70" y="566.10" font-size="7.6" xml:space="preserve">HR, 1.03; </text>
<text x="461.91" y="566.10" font-size="7.6" font-style="italic">P</text>
<text x="466.98" y="566.10" font-size="7.6" xml:space="preserve"> = .86</text>
<text x="332.50" y="575.80" font-size="7.6" font-style="italic">NPM1</text>
<text x="353.92" y="572.80" font-size="5.0" font-style="italic">mut</text>
<text x="362.75" y="575.80" font-size="7.6" xml:space="preserve"> vs. </text>
<text x="376.68" y="575.80" font-size="7.6" font-style="italic">NPM1</text>
<text x="398.10" y="572.80" font-size="5.0" font-style="italic">wt</text>
<text x="403.10" y="575.80" font-size="7.6">:</text>
<text x="427.70" y="575.80" font-size="7.6" xml:space="preserve">HR, 0.56; </text>
<text x="461.91" y="575.80" font-size="7.6" font-style="italic">P</text>
<text x="466.98" y="575.80" font-size="7.6" xml:space="preserve"> = .001</text>
<rect x="0.5" y="0.5" width="519" height="583" fill="none" stroke="#111" stroke-width="1"/>
</svg>
</body></html>
